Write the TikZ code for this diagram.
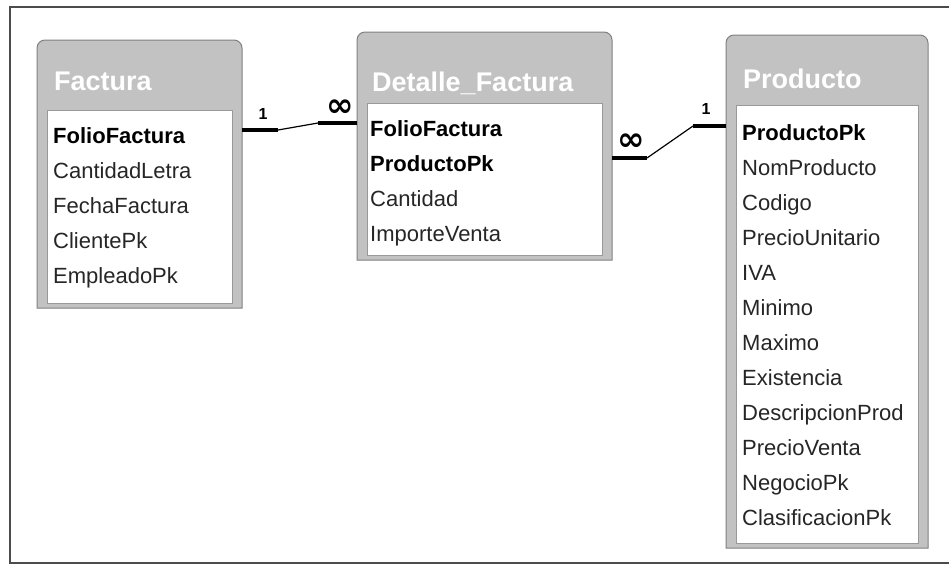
\documentclass[tikz,border=0pt]{standalone}
\usepackage{fontspec}
\setmainfont{Liberation Sans}
\newfontfamily\symfont{DejaVu Sans}
\tikzset{>=latex}
\colorlet{marco}{black!70}
\colorlet{tabgray}{black!24}
\tikzstyle{tabbox}=[draw=black!50,line width=1pt,fill=tabgray]
\tikzstyle{tabbody}=[draw=black!40,line width=0.6pt,fill=white]
\tikzstyle{title}=[anchor=base west,inner sep=0pt,text=white,font=\fontsize{27}{27}\selectfont\bfseries]
\tikzstyle{field}=[anchor=base west,inner sep=0pt,text=black!85,font=\fontsize{22}{22}\selectfont]
\tikzstyle{key}=[field,text=black,font=\fontsize{22}{22}\selectfont\bfseries]
\tikzstyle{linkthick}=[line width=4.5pt]
\tikzstyle{linkthin}=[line width=1.2pt]
\tikzstyle{card}=[inner sep=0pt,font=\fontsize{16}{16}\selectfont\bfseries]
\tikzstyle{infcard}=[inner sep=0pt,font=\symfont\fontsize{33}{33}\selectfont\bfseries]

\begin{document}
\begin{tikzpicture}[x=1pt,y=-1pt]
  \useasboundingbox (0,0) rectangle (949,574);

  % MARCO
  \draw[marco,line width=1.5pt] (949,7) -- (10,7) -- (10,563) -- (949,563);

  % FACTURA
  \draw[tabbox] (37,308) -- (37,48) arc[start angle=180,end angle=270,radius=8]
    -- (234,40) arc[start angle=270,end angle=360,radius=8] -- (242,308) -- cycle;
  \draw[tabbody] (47,110) rectangle (232,303);
  \node[title] (ft) at (54,90) {Factura};
  \node[key] (f1) at (53,143) {FolioFactura};
  \foreach \t [count=\i from 2, evaluate={\y=143+35*(\i-1);}] in
      {CantidadLetra,FechaFactura,ClientePk,EmpleadoPk}{
    \node[field] (f\i) at (53,\y) {\t};
  }

  % DETALLE_FACTURA
  \draw[tabbox] (357,260) -- (357,40) arc[start angle=180,end angle=270,radius=8]
    -- (604,32) arc[start angle=270,end angle=360,radius=8] -- (612,260) -- cycle;
  \draw[tabbody] (367,103) rectangle (602,255);
  \node[title] (dt) at (372,91) {Detalle\_Factura};
  \node[key] (d1) at (370,136) {FolioFactura};
  \node[key] (d2) at (370,171) {ProductoPk};
  \foreach \t [count=\i from 3, evaluate={\y=136+35*(\i-1);}] in
      {Cantidad,ImporteVenta}{
    \node[field] (d\i) at (370,\y) {\t};
  }

  % PRODUCTO
  \draw[tabbox] (726,548) -- (726,43) arc[start angle=180,end angle=270,radius=8]
    -- (920,35) arc[start angle=270,end angle=360,radius=8] -- (928,548) -- cycle;
  \draw[tabbody] (736,105) rectangle (918,543);
  \node[title] (pt) at (743,88) {Producto};
  \node[key] (p1) at (742,140) {ProductoPk};
  \foreach \t [count=\i from 2, evaluate={\y=140+35*(\i-1);}] in
      {NomProducto,Codigo,PrecioUnitario,IVA,Minimo,Maximo,Existencia,
       DescripcionProd,PrecioVenta,NegocioPk,ClasificacionPk}{
    \node[field] (p\i) at (742,\y) {\t};
  }

  % RELACIONES
  \coordinate (F-r) at (242,130);
  \coordinate (D-l) at (357,123);
  \coordinate (D-r) at (612,158);
  \coordinate (P-l) at (726,126);
  \draw[linkthick] (F-r) -- ++(36,0) coordinate (F-m);
  \draw[linkthick] (D-l) -- ++(-39,0) coordinate (D-m);
  \draw[linkthin] (F-m) -- (D-m);
  \draw[linkthick] (D-r) -- ++(35,0) coordinate (D-n);
  \draw[linkthick] (P-l) -- ++(-33,0) coordinate (P-m);
  \draw[linkthin] (D-n) -- (P-m);
  \node[card] (c1) at (263,114) {1};
  \node[infcard] (c2) at (340,108) {∞};
  \node[infcard] (c3) at (631,142) {∞};
  \node[card] (c4) at (706,109) {1};
\end{tikzpicture}
\end{document}
